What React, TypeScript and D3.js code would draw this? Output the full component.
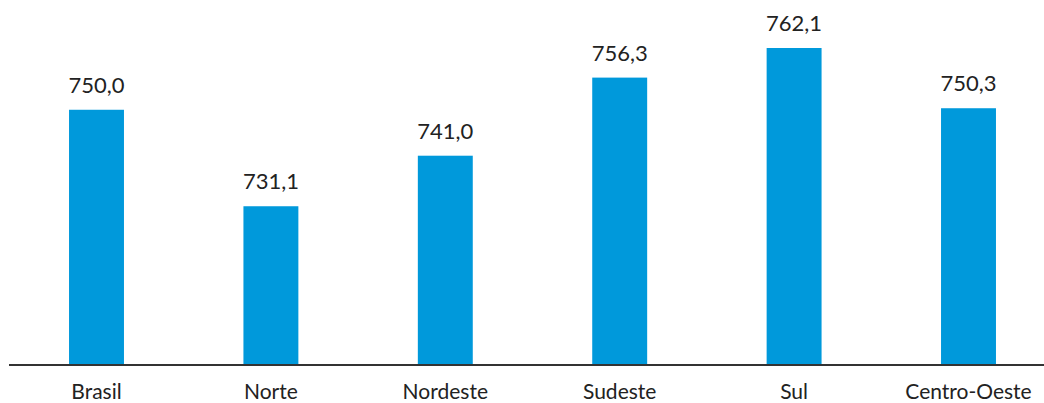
import React from "react";
import * as d3 from "d3";

const categories = ["Brasil", "Norte", "Nordeste", "Sudeste", "Sul", "Centro-Oeste"];
const values = [750.0, 731.1, 741.0, 756.3, 762.1, 750.3];

const W = 1044;
const H = 403;

export default function App() {
  const x = d3
    .scaleBand<string>()
    .domain(categories)
    .range([9.3, 1055.7])
    .paddingInner(0.685)
    .paddingOuter(0.3425);
  const y = d3.scaleLinear().domain([700, 762.1]).range([365, 48]);
  const fmt = (v: number) => d3.format(".1f")(v).replace(".", ",");
  const font = "Lato, 'Open Sans', sans-serif";

  return (
    <svg
      width={W}
      height={H}
      style={{ position: "absolute", left: 0, top: 0, background: "#fff" }}
    >
      {categories.map((c, i) => (
        <g key={c}>
          <rect
            x={x(c)}
            y={y(values[i])}
            width={x.bandwidth()}
            height={y(700) - y(values[i])}
            fill="#0099DB"
          />
          <text
            x={(x(c) as number) + x.bandwidth() / 2}
            y={y(values[i]) - 17}
            textAnchor="middle"
            fontFamily={font}
            fontSize={22}
            fill="#222"
          >
            {fmt(values[i])}
          </text>
          <text
            x={(x(c) as number) + x.bandwidth() / 2}
            y={399}
            textAnchor="middle"
            fontFamily={font}
            fontSize={21}
            fill="#222"
          >
            {c}
          </text>
        </g>
      ))}
      <line x1={9} x2={W} y1={y(700)} y2={y(700)} stroke="#333" strokeWidth={2} />
    </svg>
  );
}
